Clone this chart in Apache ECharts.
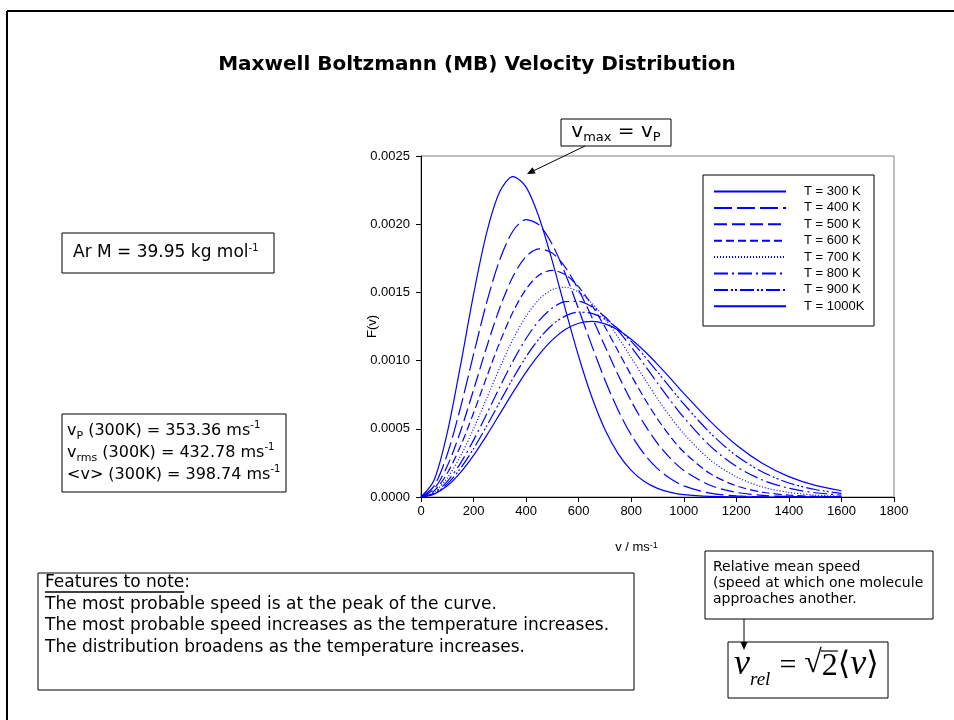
<!DOCTYPE html>
<html>
<head>
<meta charset="utf-8">
<script src="https://cdn.jsdelivr.net/npm/echarts@6.0.0/dist/echarts.min.js"></script>
<style>
html,body{margin:0;padding:0;background:#fff;}
#chart{width:954px;height:720px;}
</style>
</head>
<body>
<div id="chart"></div>
<script>
// speed (m/s) and F(v), Ar
var speeds=[0,50,100,150,200,250,300,350,400,450,500,550,600,650,700,750,800,850,900,950,1000,1100,1200,1300,1400,1500,1600];
var names=['T = 300 K','T = 400 K','T = 500 K','T = 600 K','T = 700 K','T = 800 K','T = 900 K','T = 1000K'];
var f300=[0,0.000125,0.000472,0.000961,0.001485,0.001938,0.002239,0.002349,0.002272,0.002046,0.001727,0.001372,0.001030,0.000733,0.000495,0.000318,0.000195,0.000113,0.000063,0.000034,0.000017,0.000004,0.000001,0,0,0,0];
var f400=[0,0.000082,0.000313,0.000653,0.001045,0.001427,0.001741,0.001950,0.002033,0.001993,0.001850,0.001633,0.001376,0.001110,0.000858,0.000637,0.000455,0.000313,0.000208,0.000133,0.000082,0.000028,0.000008,0.000002,0.000001,0,0];
var f500=[0,0.000059,0.000227,0.000480,0.000785,0.001100,0.001388,0.001616,0.001763,0.001819,0.001788,0.001681,0.001517,0.001319,0.001106,0.000896,0.000703,0.000534,0.000393,0.000281,0.000195,0.000086,0.000034,0.000012,0.000004,0.000001,0];
var f600=[0,0.000045,0.000174,0.000372,0.000616,0.000880,0.001135,0.001356,0.001525,0.001628,0.001661,0.001629,0.001540,0.001407,0.001246,0.001070,0.000892,0.000724,0.000572,0.000440,0.000330,0.000172,0.000082,0.000035,0.000014,0.000005,0.000002];
var f700=[0,0.000036,0.000139,0.000299,0.000500,0.000724,0.000948,0.001155,0.001326,0.001450,0.001521,0.001537,0.001502,0.001422,0.001308,0.001171,0.001021,0.000869,0.000721,0.000585,0.000464,0.000273,0.000148,0.000073,0.000034,0.000014,0.000006];
var f800=[0,0.000029,0.000114,0.000247,0.000417,0.000609,0.000807,0.000996,0.001162,0.001295,0.001386,0.001432,0.001434,0.001395,0.001321,0.001220,0.001100,0.000969,0.000835,0.000705,0.000583,0.000375,0.000224,0.000124,0.000064,0.000031,0.000014];
var f900=[0,0.000024,0.000096,0.000209,0.000354,0.000521,0.000697,0.000870,0.001028,0.001161,0.001263,0.001328,0.001355,0.001346,0.001304,0.001234,0.001141,0.001034,0.000917,0.000799,0.000682,0.000471,0.000303,0.000183,0.000103,0.000055,0.000027];
var f1000=[0,0.000021,0.000082,0.000179,0.000305,0.000452,0.000609,0.000767,0.000916,0.001046,0.001152,0.001229,0.001274,0.001287,0.001269,0.001224,0.001156,0.001070,0.000972,0.000868,0.000760,0.000556,0.000381,0.000245,0.000149,0.000085,0.000046];
var xTicks=[0,1800,200];
var yTicks=[0,0.0025,0.0005];

var allF=[f300,f400,f500,f600,f700,f800,f900,f1000];
var dashes=['solid',[18,5],[13,5],[8,4],[1,2],[14,4,2,4],[14,3,2,2,2,3],'solid'];

var BLUE='#0000ff';
var SANS='"DejaVu Sans", sans-serif';
var AX='"Liberation Sans", Arial, sans-serif';
var SERIF='"Liberation Serif", "DejaVu Serif", serif';

var ctx=document.createElement('canvas').getContext('2d');
function tw(font,s){ctx.font=font;return ctx.measureText(s).width;}

var series=allF.map(function(arr,i){
	return {
		name:names[i],
		type:'line',
		data:speeds.map(function(v,j){return [v,arr[j]];}),
		smooth:0.3,
		symbol:'none',
		lineStyle:{color:BLUE,width:1.2,type:dashes[i]},
		itemStyle:{color:BLUE}
	};
});

// bits of text drawn beside the chart
var sub={fontFamily:SANS,fontSize:11,lineHeight:12,verticalAlign:'bottom',fill:'#000'};
var sup={fontFamily:SANS,fontSize:10,lineHeight:12,verticalAlign:'top',fill:'#000'};

var g=[];
function rect(x,y,w,h,z){
	g.push({type:'rect',z:z||10,shape:{x:x,y:y,width:w,height:h},style:{fill:'#fff',stroke:'#000',lineWidth:1}});
}
function line(x1,y1,x2,y2,w){
	g.push({type:'line',z:12,shape:{x1:x1,y1:y1,x2:x2,y2:y2},style:{stroke:'#000',lineWidth:w||1}});
}
function tri(p){
	g.push({type:'polygon',z:12,shape:{points:p},style:{fill:'#000'}});
}
function txt(x,y,s,font,align,rich,lh){
	g.push({type:'text',z:13,style:{x:x,y:y,text:s,font:font,fill:'#000',
		textAlign:align||'left',align:align||'left',textVerticalAlign:'middle',verticalAlign:'middle',
		lineHeight:lh,rich:rich}});
}

// slide frame
line(7,11,7,720,2);
line(7,11,954,11,2);

txt(477,65,'Maxwell Boltzmann (MB) Velocity Distribution','bold 20px '+SANS,'center');

// vmax box + arrow
rect(561,119,110,27);
txt(616,132,'v{s|max} = v{s|P}','20px '+SANS,'center',
	{s:{fontFamily:SANS,fontSize:13,lineHeight:14,verticalAlign:'bottom',fill:'#000'}},24);
line(585,146,531,172);
tri([[527,174],[535.7,173.5],[532.6,167.3]]);

// Ar box
rect(62,233,212,40);
txt(73,253,'Ar M = 39.95 kg mol{p|-1}','17px '+SANS,'left',{p:sup},20);

// speeds box
rect(62,414,224,78);
txt(67,453,'v{b|P} (300K) = 353.36 ms{p|-1}\nv{b|rms} (300K) = 432.78 ms{p|-1}\n<v> (300K) = 398.74 ms{p|-1}',
	'16px '+SANS,'left',{b:sub,p:sup},22);

// features box
rect(38,573,596,117);
var ff='17px '+SANS;
txt(45,583,'Features to note:',ff);
line(45,592,45+tw(ff,'Features to note'),592,1.5);
txt(45,604.5,'The most probable speed is at the peak of the curve.',ff);
txt(45,626,'The most probable speed increases as the temperature increases.',ff);
txt(45,647.5,'The distribution broadens as the temperature increases.',ff);

// relative mean speed box
rect(705,551,228,68);
var rf='14px '+SANS;
txt(713,567,'Relative mean speed',rf);
txt(713,583,'(speed at which one molecule',rf);
txt(713,599,'approaches another.',rf);
line(744,619,744,643);
tri([[744,650],[740.5,642],[747.5,642]]);

// v_rel formula
rect(728,642,160,56);
var parts=[
	{t:'v',f:'italic 36px '+SERIF,y:665},
	{t:'rel',f:'italic 19px '+SERIF,y:680,r:9},
	{t:'=',f:'30px '+SERIF,y:666,r:8},
	{t:'\u221a',f:'32px '+SERIF,y:664},
	{t:'2',f:'32px '+SERIF,y:667,bar:true},
	{t:'\u27e8',f:'32px '+SERIF,y:666},
	{t:'v',f:'italic 36px '+SERIF,y:665},
	{t:'\u27e9',f:'32px '+SERIF,y:666}
];
var fx=734;
parts.forEach(function(p){
	var w=tw(p.f,p.t);
	txt(fx,p.y,p.t,p.f);
	if(p.bar){line(fx-1,651,fx+w,651,1.2);}
	fx+=w+(p.r||0);
});

// legend frame
rect(703,175,171,151,3);

var mychart=echarts.init(document.getElementById('chart'));
var option={
	animation:false,
	backgroundColor:'#fff',
	grid:{left:421,right:60,top:156,bottom:223,show:true,borderColor:'#808080',borderWidth:1},
	legend:{
		orient:'vertical',left:703,top:175,
		padding:[10,0,0,10],
		itemWidth:72,itemHeight:14,itemGap:3.4,
		selectedMode:false,
		data:names,
		itemStyle:{opacity:0},
		textStyle:{fontFamily:AX,fontSize:13,color:'#000',padding:[0,0,0,13]}
	},
	xAxis:{
		type:'value',min:xTicks[0],max:xTicks[1],interval:xTicks[2],
		name:'v / ms{p|-1}',nameLocation:'middle',nameGap:44,
		nameTextStyle:{fontFamily:AX,fontSize:13,color:'#000',padding:[0,42,0,0],
			rich:{p:{fontFamily:AX,fontSize:9,verticalAlign:'top',lineHeight:10,color:'#000'}}},
		axisLine:{lineStyle:{color:'#000',width:1}},
		axisTick:{inside:false,length:5,lineStyle:{color:'#000'}},
		axisLabel:{fontFamily:AX,fontSize:13,color:'#000',margin:8,
			formatter:function(v){return String(v);}},
		splitLine:{show:false}
	},
	yAxis:{
		type:'value',min:yTicks[0],max:yTicks[1],interval:yTicks[2],
		name:'F(v)',nameLocation:'middle',nameGap:42,nameRotate:90,nameMoveOverlap:false,
		nameTextStyle:{fontFamily:AX,fontSize:13,color:'#000'},
		axisLine:{show:true,lineStyle:{color:'#000',width:1}},
		axisTick:{show:true,inside:false,length:5,lineStyle:{color:'#000'}},
		axisLabel:{fontFamily:AX,fontSize:13,color:'#000',margin:11,
			formatter:function(v){return v.toFixed(4);}},
		splitLine:{show:false}
	},
	graphic:g,
	series:series
};
mychart.setOption(option);
</script>
</body>
</html>
